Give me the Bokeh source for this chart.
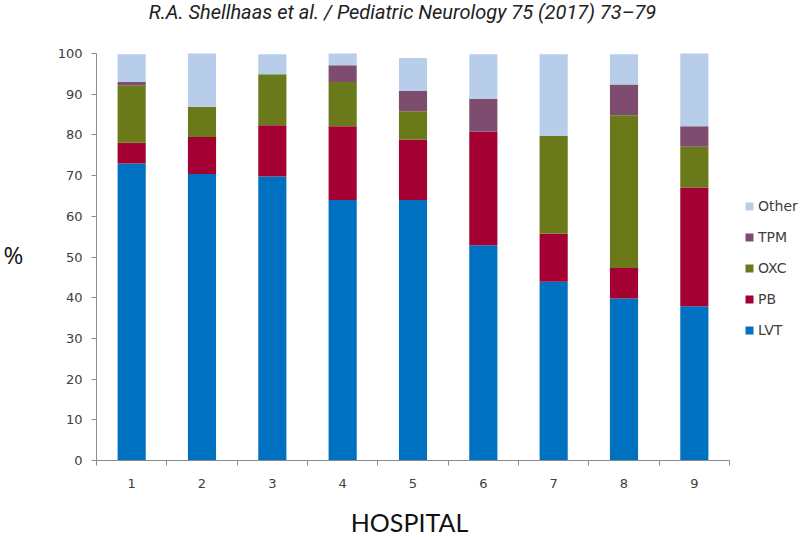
from bokeh.plotting import figure
from bokeh.models import Range1d, FixedTicker, Legend, LegendItem, ColumnDataSource, Label
from bokeh.embed import file_html
from bokeh.resources import INLINE

hospitals = [1, 2, 3, 4, 5, 6, 7, 8, 9]
hospital_labels = ["1", "2", "3", "4", "5", "6", "7", "8", "9"]
drugs = ["LVT", "PB", "OXC", "TPM", "Other"]
LVT = [73.0, 70.4, 69.8, 64.0, 64.0, 52.9, 43.9, 39.8, 37.9]
PB = [5.1, 9.1, 12.6, 18.1, 14.8, 27.9, 11.8, 7.5, 29.2]
OXC = [14.1, 7.4, 12.5, 10.9, 7.0, 0.0, 24.1, 37.5, 10.0]
TPM = [0.8, 0.0, 0.0, 4.1, 5.0, 8.1, 0.0, 7.6, 5.0]
Other = [6.8, 13.1, 4.9, 2.9, 8.1, 10.9, 20.0, 7.4, 17.9]
colors = ["#0070C0", "#A50034", "#6A7A1A", "#7E4C6E", "#B7CDEA"]
y_ticks = [0, 10, 20, 30, 40, 50, 60, 70, 80, 90, 100]
header = "R.A. Shellhaas et al. / Pediatric Neurology 75 (2017) 73\u201379"
x_title = "HOSPITAL"
y_title = "%"

# geometry (pixels): the value axes start at x=96 and y=460 and span
# 633 px for 9 hospitals and 407 px for 0-100 %; the plotting frame covers the
# whole canvas and the axes are pinned with fixed_location.
W, H = 800, 537
AX_LEFT, AX_BOTTOM = 96, 460
px_per_x = 633 / 9
px_per_y = 407 / 100
x_start = 0.5 - AX_LEFT / px_per_x
x_end = x_start + W / px_per_x
y_start = -(H - AX_BOTTOM) / px_per_y
y_end = AX_BOTTOM / px_per_y


def dx(px):
    return x_start + px / px_per_x


def dy(py):
    return y_end - py / px_per_y


source = ColumnDataSource(dict(x=hospitals, LVT=LVT, PB=PB, OXC=OXC, TPM=TPM, Other=Other))

p = figure(width=W, height=H, output_backend="svg", toolbar_location=None,
           x_range=Range1d(x_start, x_end), y_range=Range1d(y_start, y_end),
           min_border_left=0, min_border_right=0, min_border_top=0, min_border_bottom=0)
p.outline_line_color = None
p.grid.grid_line_color = None
p.background_fill_color = "white"

renderers = p.vbar_stack(drugs, x="x", width=0.4, source=source, color=colors, line_color=None)

axis_color = "#8c8c8c"
text_color = "#404040"

p.yaxis.fixed_location = 0.5
p.yaxis.bounds = (0, 100)
p.yaxis.ticker = FixedTicker(ticks=y_ticks)
p.yaxis.axis_line_color = axis_color
p.yaxis.major_tick_line_color = axis_color
p.yaxis.major_tick_out = 5
p.yaxis.major_tick_in = 0
p.yaxis.minor_tick_line_color = None
p.yaxis.major_label_standoff = 9
p.yaxis.major_label_text_font = "DejaVu Sans"
p.yaxis.major_label_text_font_size = "13px"
p.yaxis.major_label_text_color = text_color

p.xaxis.fixed_location = 0
p.xaxis.bounds = (0.5, 9.5)
p.xaxis.ticker = FixedTicker(ticks=hospitals, minor_ticks=[h - 0.5 for h in hospitals] + [9.5])
p.xaxis.major_label_overrides = {h: l for h, l in zip(hospitals, hospital_labels)}
p.xaxis.axis_line_color = axis_color
p.xaxis.major_tick_line_color = None
p.xaxis.major_tick_out = 5
p.xaxis.major_tick_in = 0
p.xaxis.minor_tick_line_color = axis_color
p.xaxis.minor_tick_out = 5
p.xaxis.minor_tick_in = 0
p.xaxis.major_label_standoff = 13
p.xaxis.major_label_text_font = "DejaVu Sans"
p.xaxis.major_label_text_font_size = "13px"
p.xaxis.major_label_text_color = text_color

p.add_layout(Label(x=dx(402), y=dy(11), text=header, text_align="center",
                   text_baseline="middle", text_font="Roboto", text_font_style="italic",
                   text_font_size="20px", text_color="#222222"))
p.add_layout(Label(x=dx(409), y=dy(521), text=x_title, text_align="center",
                   text_baseline="middle", text_font="Lato",
                   text_font_size="25px", text_color="#111111"))
p.add_layout(Label(x=dx(13), y=dy(254), text=y_title, text_align="center",
                   text_baseline="middle", text_font="Open Sans",
                   text_font_size="24px", text_color="#111111"))

items = [LegendItem(label=d, renderers=[r]) for d, r in zip(drugs, renderers)][::-1]
legend = Legend(items=items, location=(744, H - 340), padding=0, margin=0,
                border_line_color=None, background_fill_alpha=0,
                glyph_width=10, glyph_height=10, label_height=20, spacing=11,
                label_standoff=4, label_text_font="DejaVu Sans",
                label_text_font_size="14px", label_text_color=text_color)
p.add_layout(legend, "center")

open("out.html", "w").write(file_html(p, INLINE))
